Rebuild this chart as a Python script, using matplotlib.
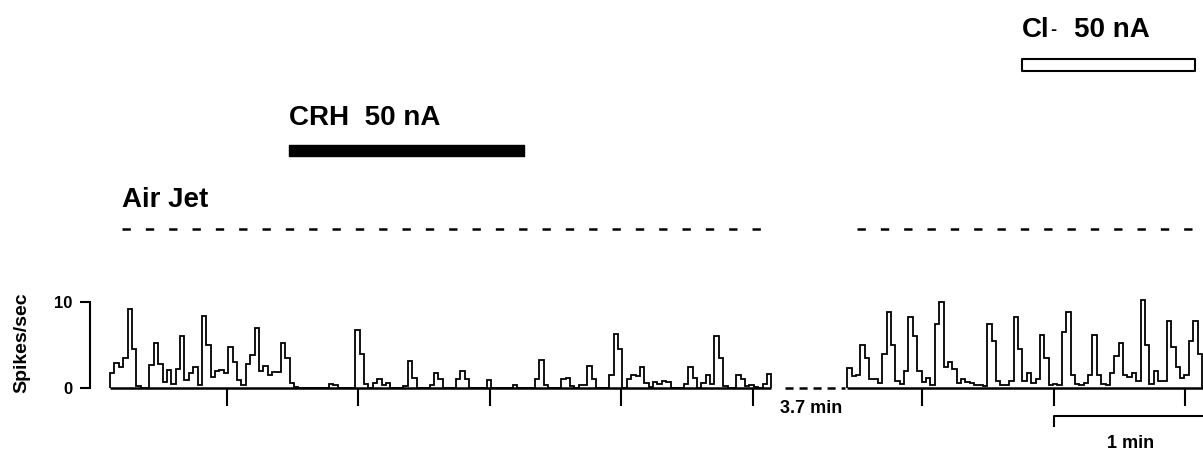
import numpy as np
import matplotlib.pyplot as plt

plt.rcParams['font.family'] = ['Liberation Sans', 'DejaVu Sans']
plt.rcParams['font.weight'] = 'bold'
plt.rcParams['lines.scale_dashes'] = False

# firing rate (spikes/sec), 1 s bins, before the 3.7 min break
left_rate = [1.8, 2.9, 2.4, 3.5, 9.2, 4.5, 0.2, 0, 0, 2.7,
             5.2, 2.8, 0.7, 2.1, 0.5, 2.2, 6.0, 0.9, 1.7, 2.5,
             0.3, 8.4, 5.0, 1.3, 2.0, 2.1, 1.7, 4.8, 3.0, 0.9,
             0.3, 2.8, 3.8, 7.0, 2.0, 2.6, 1.5, 1.9, 1.9, 5.2,
             3.5, 0.6, 0.1, 0, 0, 0, 0, 0, 0, 0,
             0.5, 0.3, 0, 0, 0, 0, 6.7, 4.0, 0.5, 0,
             0.6, 1.0, 0.3, 0.6, 0, 0, 0, 0.2, 3.1, 1.2,
             0, 0, 0, 0.4, 1.8, 1.0, 0, 0, 0, 1.0,
             2.0, 1.0, 0, 0, 0, 0, 0.9, 0, 0, 0,
             0, 0, 0.4, 0, 0, 0, 0, 1.0, 3.3, 0.3,
             0, 0, 0, 1.0, 1.2, 0.2, 0, 0.4, 0.3, 2.6,
             1.0, 0, 0, 0, 1.5, 6.3, 4.5, 0, 1.0, 1.5,
             1.4, 2.4, 0.6, 0.1, 0.7, 0.5, 0.8, 0.7, 0, 0,
             0, 0.5, 2.4, 1.2, 0, 0.6, 1.5, 0.5, 6.1, 3.5,
             0.2, 0, 0, 1.5, 1.0, 0.2, 0.4, 0.1, 0, 0.5,
             1.6]

# firing rate after the break (Cl- application near the end)
right_rate = [2.3, 1.4, 1.5, 5.0, 3.5, 1.0, 1.0, 0.6, 4.0, 8.8,
              5.0, 0.8, 0.5, 2.0, 8.2, 6.0, 2.0, 0.7, 1.2, 0.3,
              7.5, 10.0, 2.5, 3.0, 2.2, 0.6, 1.0, 0.7, 0.6, 0.3,
              0.3, 0.2, 7.5, 5.5, 0.8, 0.3, 0.3, 0.8, 8.2, 4.5,
              0.8, 1.8, 0.6, 1.0, 6.2, 3.5, 0.3, 0.5, 0.3, 6.5,
              8.8, 1.5, 0.5, 0.4, 0.6, 1.5, 6.2, 1.5, 0.5, 0.4,
              1.7, 3.7, 5.2, 1.5, 1.3, 1.8, 0.8, 10.2, 5.0, 0.5,
              2.0, 0.8, 0.8, 7.8, 4.8, 2.5, 1.2, 1.5, 5.5, 7.8,
              4.0]

bin_s = 1.0
left_start = 0.0
right_start = 168.3
left_ticks = np.arange(26.7, 152, 30)
right_ticks = np.arange(185.5, 249, 30)
airjet_periods = [(2.7, 151.6), (170.5, 249.6)]
crh_period = (40.9, 94.5)
cl_period = (208.2, 247.7)
break_span = (154.1, 167.8)
scale_bar = (215.5, 275.5)

fig = plt.figure(figsize=(12.03, 4.5), dpi=100)
ax = fig.add_axes([0, 0, 1, 1])
ax.set_xlim(-25.11, 249.54)
ax.set_ylim(-7.21, 45.12)

# histograms
edges_l = left_start + np.arange(len(left_rate) + 1) * bin_s
edges_r = right_start + np.arange(len(right_rate) + 1) * bin_s
ax.stairs(left_rate, edges_l, baseline=0, color='black', lw=1.3)
ax.stairs(right_rate, edges_r, baseline=0, color='black', lw=1.3)

# baselines and time ticks
ax.hlines(0, edges_l[0], edges_l[-1], color='black', lw=1.8)
ax.hlines(0, edges_r[0], 249.54, color='black', lw=1.8)
ax.hlines(0, break_span[0], break_span[1], color='black', lw=1.8,
          linestyles=[(0, (5.8, 4.3))])
ax.vlines(np.concatenate([left_ticks, right_ticks]), -2.1, 0, color='black', lw=1.5)
ax.text(160.0, -2.33, '3.7 min', fontsize=13, ha='center', va='center')

# 1 min scale bar
ax.plot([scale_bar[0], scale_bar[0], scale_bar[1]], [-4.42, -3.26, -3.26],
        color='black', lw=1.5)
ax.text(233.1, -6.4, '1 min', fontsize=13, ha='center', va='center')

# air jet
for a, b in airjet_periods:
    ax.hlines(18.49, a, b, color='black', lw=1.8, linestyles=[(0, (6.0, 10.8))])
ax.text(2.74, 21.86, 'Air Jet', fontsize=20, ha='left', va='center')

# CRH iontophoresis
ax.broken_barh([(crh_period[0], crh_period[1] - crh_period[0])], (26.98, 1.28),
               facecolor='black', edgecolor='black')
ax.text(crh_period[0], 31.4, 'CRH  50 nA', fontsize=20, ha='left', va='center')

# Cl- iontophoresis
ax.broken_barh([(cl_period[0], cl_period[1] - cl_period[0])], (36.86, 1.4),
               facecolor='white', edgecolor='black', lw=1.5)
ax.text(cl_period[0], 41.63, 'Cl', fontsize=20, ha='left', va='center')
ax.text(cl_period[0] + 6.4, 41.55, '-', fontsize=13, ha='left', va='center')
ax.text(cl_period[0] + 11.9, 41.63, '50 nA', fontsize=20, ha='left', va='center')

# y axis
for s in ['top', 'right', 'bottom']:
    ax.spines[s].set_visible(False)
ax.spines['left'].set_position(('data', -4.57))
ax.spines['left'].set_bounds(0, 10)
ax.spines['left'].set_linewidth(1.5)
ax.set_xticks([])
ax.set_yticks([0, 10])
ax.tick_params(axis='y', length=7.2, width=1.5, labelsize=12, pad=5.5)
fig.text(22 / 1203, 1 - 343 / 450, 'Spikes/sec', rotation=90, fontsize=14,
         ha='center', va='center')

fig.savefig('out.png', dpi=100)
